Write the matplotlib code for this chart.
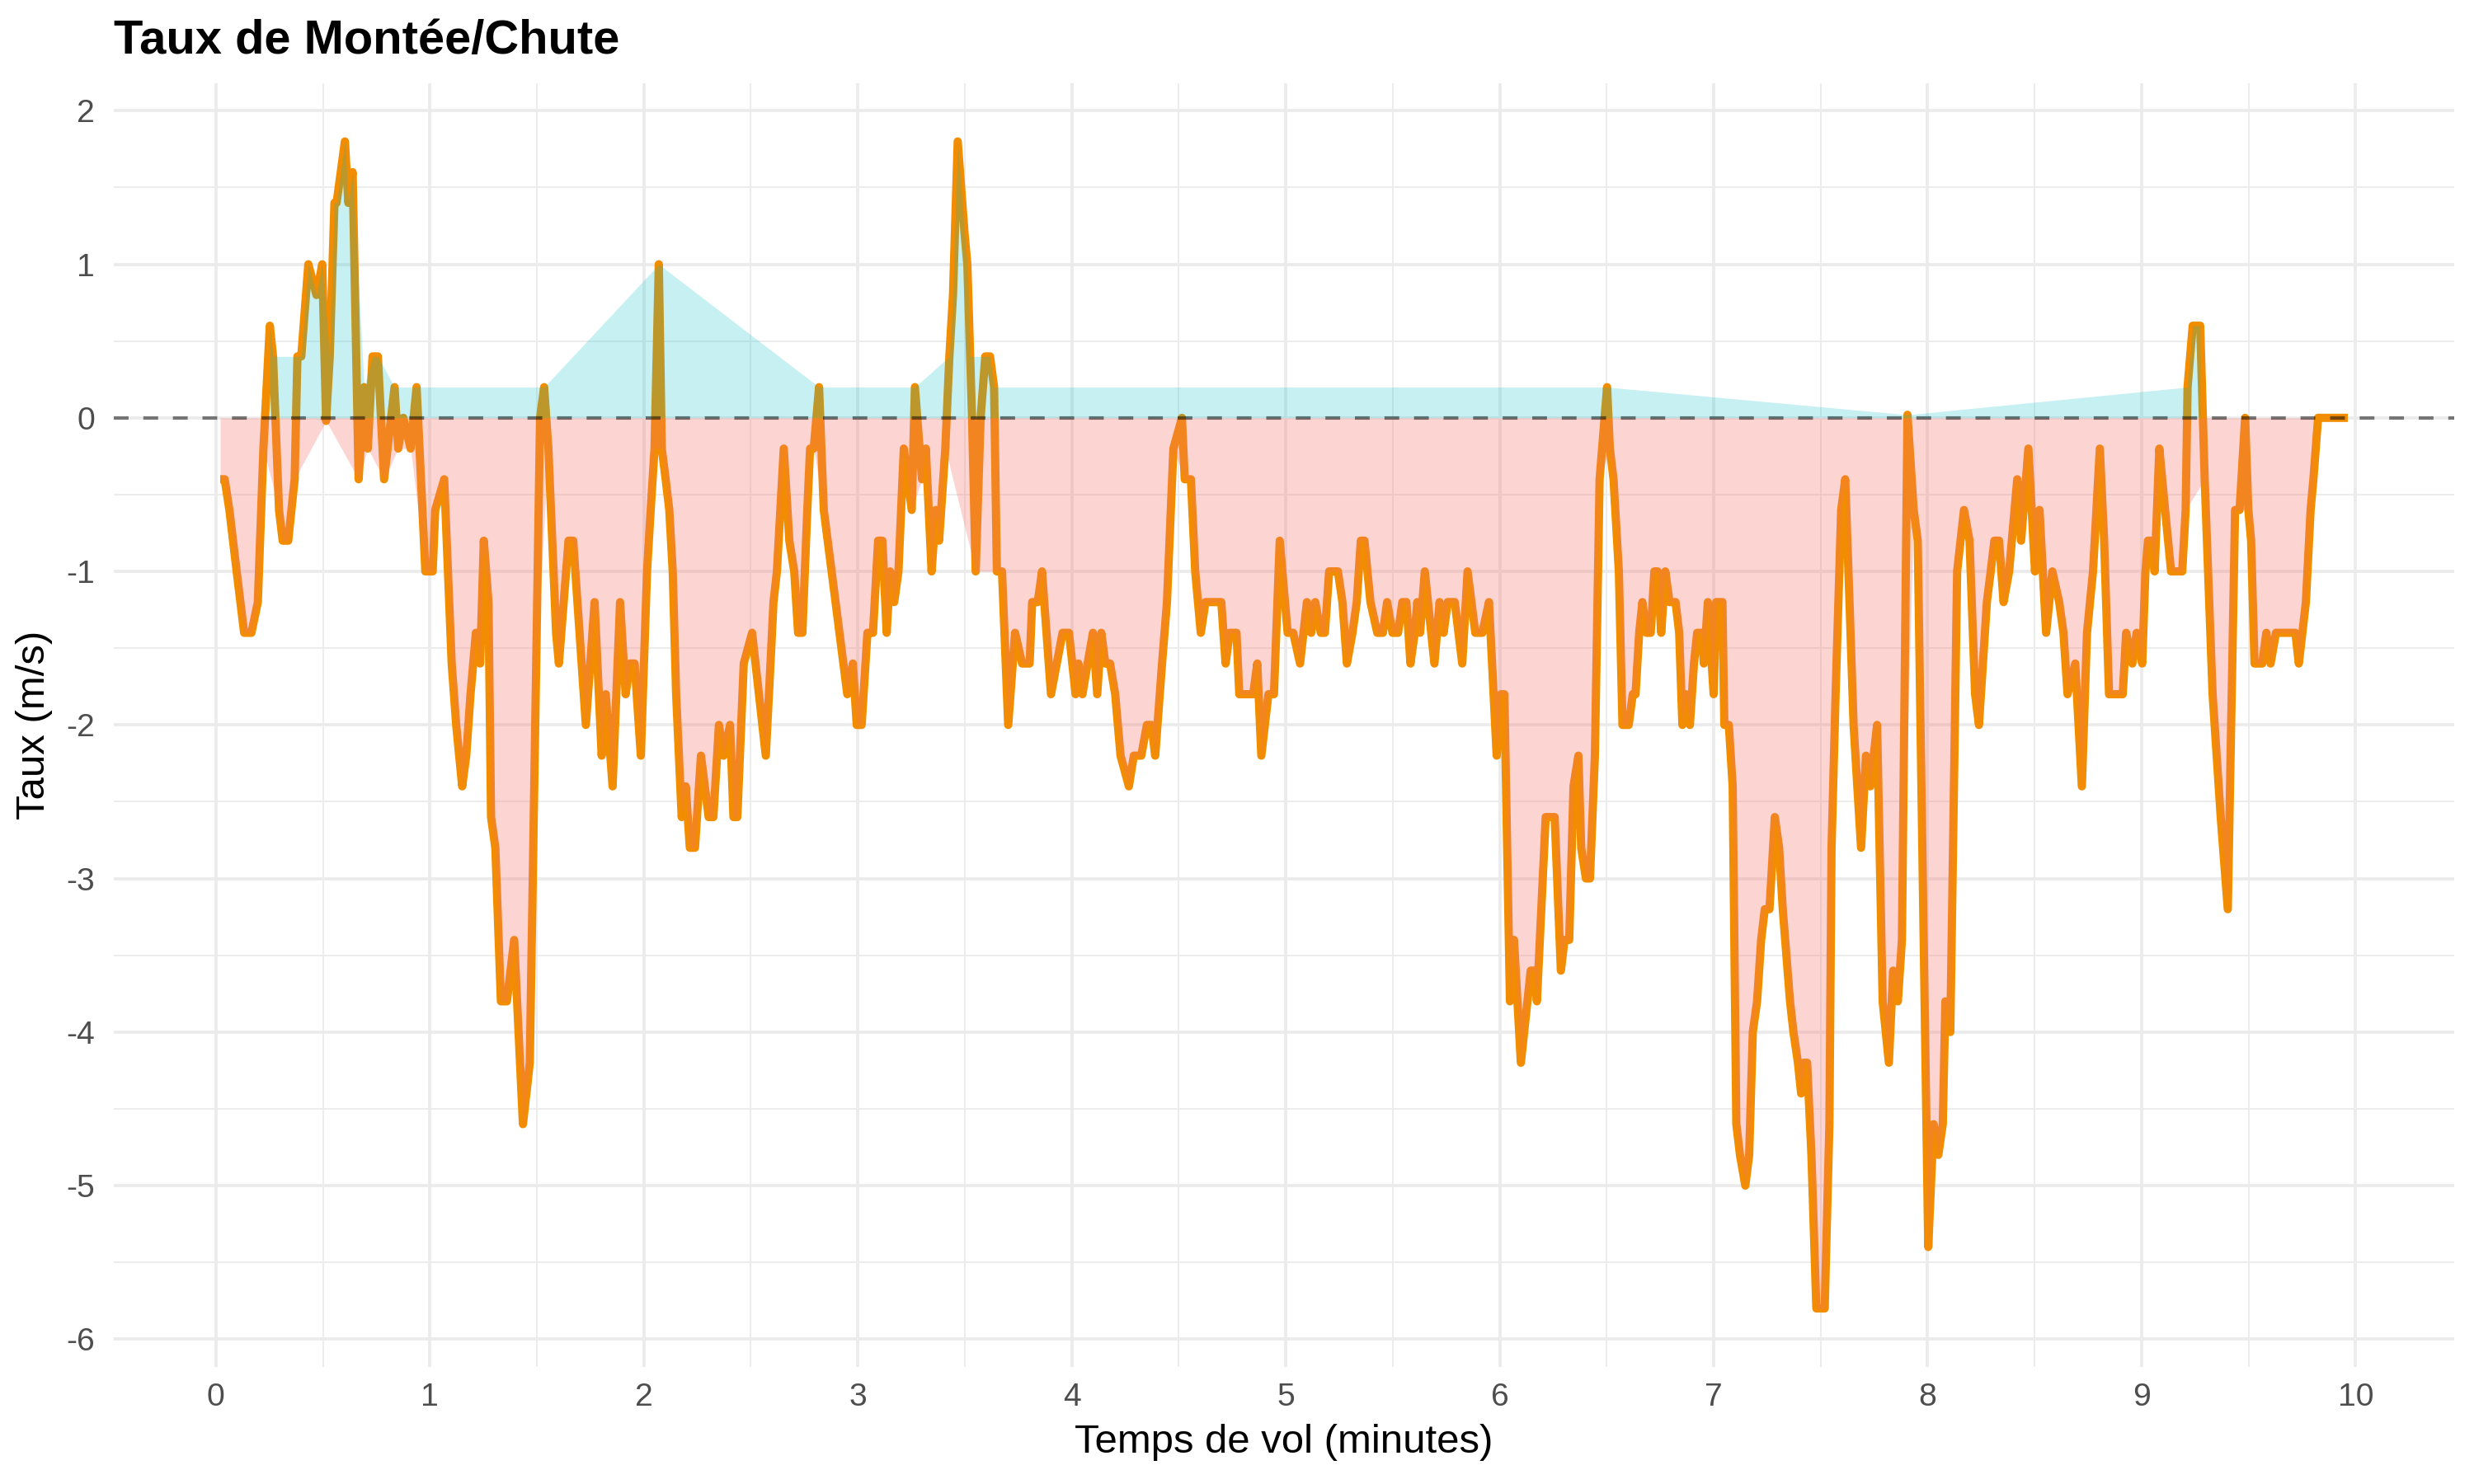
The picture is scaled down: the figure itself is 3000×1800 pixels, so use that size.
import numpy as np
import matplotlib.pyplot as plt

# Police proche de Helvetica (rendu ggplot)
plt.rcParams["font.family"] = ["Liberation Sans", "DejaVu Sans"]
plt.rcParams["axes.unicode_minus"] = False

# Données : temps (minutes) et taux vertical (m/s)
temps_min = [
    0.020, 0.041, 0.063, 0.097, 0.132, 0.166, 0.196, 0.222, 0.252, 0.267,
    0.295, 0.312, 0.338, 0.368, 0.381, 0.399, 0.432, 0.470, 0.497, 0.515,
    0.532, 0.554, 0.564, 0.603, 0.619, 0.639, 0.667, 0.693, 0.710, 0.732,
    0.757, 0.786, 0.835, 0.852, 0.876, 0.910, 0.938,
    0.979, 1.013, 1.025, 1.067, 1.102, 1.123, 1.151, 1.170, 1.190, 1.215,
    1.235, 1.252, 1.274, 1.286, 1.306, 1.332, 1.360, 1.394, 1.435, 1.467,
    1.497, 1.515, 1.534, 1.554, 1.590, 1.603, 1.648, 1.670, 1.729, 1.770,
    1.803, 1.822, 1.854, 1.889, 1.915, 1.935, 1.957, 1.986,
    2.015, 2.032, 2.050, 2.070, 2.084, 2.102, 2.119, 2.135, 2.151, 2.177,
    2.196, 2.215, 2.239, 2.267, 2.303, 2.325, 2.351, 2.373, 2.403, 2.419,
    2.437, 2.467, 2.506, 2.570, 2.592, 2.606, 2.622, 2.654, 2.680, 2.703,
    2.721, 2.741, 2.764, 2.777, 2.794, 2.819, 2.841, 2.951, 2.977,
    2.995, 3.018, 3.045, 3.071, 3.095, 3.115, 3.135, 3.151, 3.170, 3.190,
    3.215, 3.252, 3.267, 3.300, 3.318, 3.345, 3.365, 3.380, 3.409, 3.428,
    3.445, 3.467, 3.499, 3.512, 3.525, 3.534, 3.551, 3.574, 3.596, 3.618,
    3.637, 3.650, 3.674, 3.703, 3.735, 3.768, 3.803, 3.815, 3.841, 3.861,
    3.903, 3.957, 3.987, 4.018,
    4.031, 4.050, 4.074, 4.099, 4.119, 4.138, 4.157, 4.179, 4.203, 4.228,
    4.267, 4.290, 4.325, 4.351, 4.373, 4.390, 4.422, 4.445, 4.475, 4.515,
    4.528, 4.557, 4.577, 4.603, 4.625, 4.699, 4.719, 4.738, 4.770, 4.783,
    4.848, 4.867, 4.886, 4.919, 4.945, 4.972,
    5.009, 5.035, 5.067, 5.099, 5.119, 5.138, 5.164, 5.183, 5.203, 5.244,
    5.265, 5.286, 5.312, 5.332, 5.351, 5.368, 5.396, 5.428, 5.454, 5.474,
    5.499, 5.525, 5.545, 5.564, 5.583, 5.603, 5.615, 5.628, 5.650, 5.665,
    5.695, 5.719, 5.738, 5.757, 5.790, 5.825, 5.850, 5.886, 5.919, 5.950,
    5.986, 6.006, 6.022, 6.048, 6.067, 6.099, 6.145, 6.161, 6.174, 6.215,
    6.257, 6.286, 6.303, 6.325, 6.345, 6.368, 6.381, 6.403, 6.422, 6.445,
    6.467, 6.502, 6.515, 6.532, 6.557, 6.574, 6.603, 6.622, 6.635, 6.652,
    6.667, 6.686, 6.706, 6.723, 6.738, 6.755, 6.774, 6.794, 6.822, 6.839,
    6.854, 6.871, 6.889, 6.908, 6.923, 6.945, 6.954, 6.973, 7.000,
    7.012, 7.041, 7.050, 7.071, 7.089, 7.106, 7.123, 7.148, 7.166, 7.183,
    7.203, 7.222, 7.239, 7.261, 7.286, 7.306, 7.323, 7.357, 7.373, 7.394,
    7.409, 7.422, 7.437, 7.457, 7.480, 7.519, 7.541, 7.551, 7.570, 7.596,
    7.615, 7.635, 7.654, 7.689, 7.712, 7.732, 7.764, 7.790, 7.819, 7.839,
    7.861, 7.880, 7.906, 7.935, 7.954,
    8.003, 8.028, 8.050, 8.071, 8.083, 8.106, 8.138, 8.170, 8.196, 8.222,
    8.240, 8.277, 8.295, 8.312, 8.334, 8.355, 8.381, 8.419, 8.437, 8.471,
    8.502, 8.523, 8.554, 8.583, 8.615, 8.635, 8.654, 8.690, 8.721, 8.745,
    8.773, 8.805, 8.825, 8.848, 8.912, 8.928, 8.957, 8.977, 9.003, 9.018,
    9.030, 9.045, 9.061, 9.083, 9.110, 9.138, 9.190, 9.206, 9.215, 9.239,
    9.274, 9.295, 9.332, 9.370, 9.403, 9.437, 9.458, 9.484, 9.499, 9.512,
    9.528, 9.564, 9.583, 9.603, 9.628, 9.719, 9.735, 9.768, 9.790, 9.803,
    9.825, 9.964,
]

taux = [
    -0.4, -0.4, -0.6, -1.0, -1.4, -1.4, -1.2, -0.2, 0.6, 0.4,
    -0.6, -0.8, -0.8, -0.4, 0.4, 0.4, 1.0, 0.8, 1.0, -0.02,
    0.4, 1.4, 1.4, 1.8, 1.4, 1.6, -0.4, 0.2, -0.2, 0.4,
    0.4, -0.4, 0.2, -0.2, 0.0, -0.2, 0.2,
    -1.0, -1.0, -0.6, -0.4, -1.6, -2.0, -2.4, -2.2, -1.8, -1.4,
    -1.6, -0.8, -1.2, -2.6, -2.8, -3.8, -3.8, -3.4, -4.6, -4.2,
    -1.6, 0.0, 0.2, -0.2, -1.4, -1.6, -0.8, -0.8, -2.0, -1.2,
    -2.2, -1.8, -2.4, -1.2, -1.8, -1.6, -1.6, -2.2,
    -1.0, -0.6, -0.2, 1.0, -0.2, -0.4, -0.6, -1.0, -1.8, -2.6,
    -2.4, -2.8, -2.8, -2.2, -2.6, -2.6, -2.0, -2.2, -2.0, -2.6,
    -2.6, -1.6, -1.4, -2.2, -1.6, -1.2, -1.0, -0.2, -0.8, -1.0,
    -1.4, -1.4, -0.6, -0.2, -0.2, 0.2, -0.6, -1.8, -1.6,
    -2.0, -2.0, -1.4, -1.4, -0.8, -0.8, -1.4, -1.0, -1.2, -1.0,
    -0.2, -0.6, 0.2, -0.4, -0.2, -1.0, -0.6, -0.8, -0.2, 0.4,
    0.8, 1.8, 1.2, 1.0, 0.4, 0.0, -1.0, 0.0, 0.4, 0.4,
    0.2, -1.0, -1.0, -2.0, -1.4, -1.6, -1.6, -1.2, -1.2, -1.0,
    -1.8, -1.4, -1.4, -1.8,
    -1.6, -1.8, -1.6, -1.4, -1.8, -1.4, -1.6, -1.6, -1.8, -2.2,
    -2.4, -2.2, -2.2, -2.0, -2.0, -2.2, -1.6, -1.2, -0.2, 0.0,
    -0.4, -0.4, -1.0, -1.4, -1.2, -1.2, -1.6, -1.4, -1.4, -1.8,
    -1.8, -1.6, -2.2, -1.8, -1.8, -0.8,
    -1.4, -1.4, -1.6, -1.2, -1.4, -1.2, -1.4, -1.4, -1.0, -1.0,
    -1.2, -1.6, -1.4, -1.2, -0.8, -0.8, -1.2, -1.4, -1.4, -1.2,
    -1.4, -1.4, -1.2, -1.2, -1.6, -1.4, -1.2, -1.4, -1.0, -1.2,
    -1.6, -1.2, -1.4, -1.2, -1.2, -1.6, -1.0, -1.4, -1.4, -1.2,
    -2.2, -1.8, -1.8, -3.8, -3.4, -4.2, -3.6, -3.6, -3.8, -2.6,
    -2.6, -3.6, -3.4, -3.4, -2.4, -2.2, -2.8, -3.0, -3.0, -2.2,
    -0.4, 0.2, -0.2, -0.4, -1.0, -2.0, -2.0, -1.8, -1.8, -1.4,
    -1.2, -1.4, -1.4, -1.0, -1.0, -1.4, -1.0, -1.2, -1.2, -1.4,
    -2.0, -1.8, -2.0, -1.6, -1.4, -1.4, -1.6, -1.2, -1.8,
    -1.2, -1.2, -2.0, -2.0, -2.4, -4.6, -4.8, -5.0, -4.8, -4.0,
    -3.8, -3.4, -3.2, -3.2, -2.6, -2.8, -3.2, -3.8, -4.0, -4.2,
    -4.4, -4.2, -4.2, -4.8, -5.8, -5.8, -4.6, -2.8, -1.8, -0.6,
    -0.4, -1.2, -2.0, -2.8, -2.2, -2.4, -2.0, -3.8, -4.2, -3.6,
    -3.8, -3.4, 0.02, -0.6, -0.8,
    -5.4, -4.6, -4.8, -4.6, -3.8, -4.0, -1.0, -0.6, -0.8, -1.8,
    -2.0, -1.2, -1.0, -0.8, -0.8, -1.2, -1.0, -0.4, -0.8, -0.2,
    -1.0, -0.6, -1.4, -1.0, -1.2, -1.4, -1.8, -1.6, -2.4, -1.4,
    -1.0, -0.2, -0.8, -1.8, -1.8, -1.4, -1.6, -1.4, -1.6, -1.0,
    -0.8, -0.8, -1.0, -0.2, -0.6, -1.0, -1.0, -0.6, 0.2, 0.6,
    0.6, -0.4, -1.8, -2.6, -3.2, -0.6, -0.6, 0.0, -0.6, -0.8,
    -1.6, -1.6, -1.4, -1.6, -1.4, -1.4, -1.6, -1.2, -0.6, -0.4,
    0.0, 0.0,
]

t = np.array(temps_min)
v = np.array(taux)

# Figure 3000x1800 px
fig = plt.figure(figsize=(10, 6), dpi=300)
ax = fig.add_axes([0.046, 0.079, 0.946, 0.865])

# Courbe principale (sous les aires, comme dans le rendu d'origine)
ax.plot(t, v, color="#F28C00", linewidth=2.4, solid_joinstyle="round",
        solid_capstyle="butt", zorder=2)

# Aires : montée (points positifs) et chute (points négatifs)
pos = v > 0
neg = v < 0
ax.fill_between(t[pos], 0, v[pos], color="#00BFC4", alpha=0.22,
                linewidth=0, zorder=3)
ax.fill_between(t[neg], 0, v[neg], color="#F8766D", alpha=0.3,
                linewidth=0, zorder=3)

# Ligne de référence à zéro
ax.axhline(0, color="black", alpha=0.5, linewidth=1.0,
           linestyle=(0, (4.3, 4.3)), zorder=4)

# Limites avec expansion de 5 % (style ggplot)
xr = t.max() - t.min()
yr = v.max() - v.min()
ax.set_xlim(t.min() - 0.05 * xr, t.max() + 0.05 * xr)
ax.set_ylim(v.min() - 0.05 * yr, v.max() + 0.05 * yr)

# Graduations et grille
ax.set_xticks(np.arange(0, 11, 1))
ax.set_xticks(np.arange(0.5, 10, 1), minor=True)
ax.set_yticks(np.arange(-6, 3, 1))
ax.set_yticks(np.arange(-5.5, 2, 1), minor=True)
ax.set_xticklabels([str(i) for i in range(0, 11)])
ax.set_yticklabels([str(i) for i in range(-6, 3)])
ax.grid(which="major", color="#EBEBEB", linewidth=0.9, zorder=0)
ax.grid(which="minor", color="#EBEBEB", linewidth=0.45, zorder=0)
ax.set_axisbelow(True)
ax.tick_params(which="both", length=0)
ax.tick_params(axis="both", labelsize=9.4, labelcolor="#4D4D4D")
ax.tick_params(axis="y", pad=5.5)
ax.tick_params(axis="x", pad=4.5)
for s in ax.spines.values():
    s.set_visible(False)

# Textes
fig.text(0.046, 1 - 65 / 1800, "Taux de Montée/Chute", fontsize=13.9,
         fontweight="bold", ha="left", va="baseline")
fig.text(0.5 * (0.046 + 0.992), 1 - 1749 / 1800, "Temps de vol (minutes)",
         fontsize=11.8, ha="center", va="center")
fig.text(42 / 3000, 0.079 + 0.865 / 2, "Taux (m/s)", fontsize=11.8,
         rotation=90, ha="center", va="center")

fig.savefig("out.png", dpi=300)
plt.close(fig)
